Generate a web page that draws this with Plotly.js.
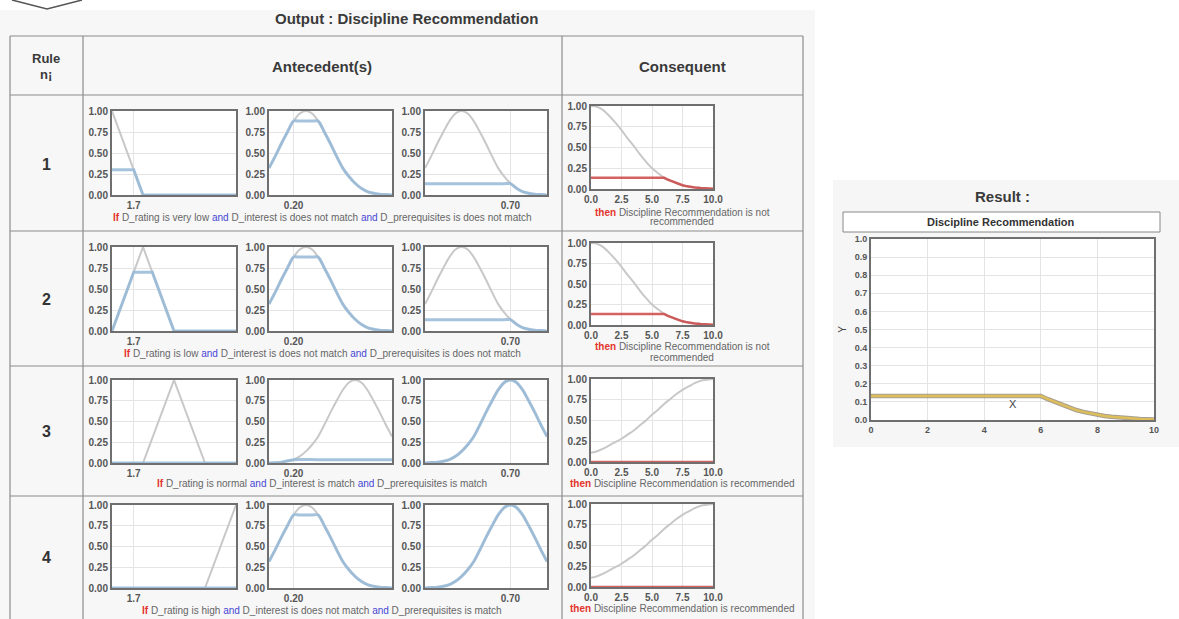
<!DOCTYPE html>
<html><head><meta charset="utf-8">
<script src="https://cdn.plot.ly/plotly-3.0.1.min.js"></script>
<style>html,body{margin:0;padding:0;background:#fff;}#chart{width:1179px;height:619px;}</style>
</head><body><div id="chart"></div>
<script>
// ---------------- DATA ----------------
const ruleNumbers = ['1', '2', '3', '4'];
const ratingTerms = ['very low', 'low', 'normal', 'high'];
const interestTerms = ['does not match', 'does not match', 'match', 'does not match'];
const prereqTerms = ['does not match', 'does not match', 'match', 'match'];
const consequentTerms = ['not recommended', 'not recommended', 'recommended', 'recommended'];
const inputTickVals = [1.7, 0.20, 0.70];
const inputTickText = ['1.7', '0.20', '0.70'];

// D_rating membership functions (grey)
const veryLowX = [1, 2, 5];        const veryLowY = [1, 0, 0];
const lowX = [1, 2, 3, 5];         const lowY = [0, 1, 0, 0];
const normalX = [1, 2, 3, 4, 5];   const normalY = [0, 0, 1, 0, 0];
const highX = [1, 4, 5];           const highY = [0, 0, 1];

// D_interest / D_prerequisites membership functions (grey)
const unitX = [0, 0.05, 0.1, 0.15, 0.2, 0.25, 0.3, 0.35, 0.4, 0.45, 0.5, 0.55, 0.6, 0.65, 0.7, 0.75, 0.8, 0.85, 0.9, 0.95, 1.0];
const notMatchY = [0.32, 0.46, 0.61, 0.75, 0.88, 0.97, 1.00, 0.97, 0.88, 0.75, 0.61, 0.46, 0.32, 0.22, 0.14, 0.08, 0.04, 0.02, 0.01, 0.005, 0.0];
const matchY = [0.0, 0.005, 0.01, 0.02, 0.04, 0.08, 0.14, 0.22, 0.32, 0.46, 0.61, 0.75, 0.88, 0.97, 1.00, 0.97, 0.88, 0.75, 0.61, 0.46, 0.32];

// fired (clipped) antecedent lines (blue)
const r1RatingX = [1, 1.7, 2, 5];          const r1RatingY = [0.3, 0.3, 0, 0];
const r2RatingX = [1, 1.7, 2.3, 3, 5];     const r2RatingY = [0, 0.7, 0.7, 0, 0];
const r3RatingX = [1, 5];                  const r3RatingY = [0, 0];
const r4RatingX = [1, 5];                  const r4RatingY = [0, 0];
const notMatchCutX = [0, 0.05, 0.1, 0.15, 0.2, 0.25, 0.3, 0.35, 0.4, 0.45, 0.5, 0.55, 0.6, 0.65, 0.7, 0.75, 0.8, 0.85, 0.9, 0.95, 1.0];
const notMatchCutY = [0.32, 0.46, 0.61, 0.75, 0.88, 0.88, 0.88, 0.88, 0.88, 0.75, 0.61, 0.46, 0.32, 0.22, 0.14, 0.08, 0.04, 0.02, 0.01, 0.005, 0.0];
const matchLowCutX = [0, 0.1, 0.2, 0.4, 0.7, 1.0];   const matchLowCutY = [0.0, 0.01, 0.04, 0.04, 0.04, 0.04];
const prereqCutX = [0, 0.3, 0.6, 0.65, 0.7, 0.75, 0.8, 0.85, 0.9, 0.95, 1.0];
const prereqCutY = [0.135, 0.135, 0.135, 0.135, 0.135, 0.08, 0.04, 0.02, 0.01, 0.005, 0.0];

// Consequent membership functions (grey)
const consX = [0, 0.5, 1, 1.5, 2, 2.5, 3, 3.5, 4, 4.5, 5, 5.5, 6, 6.5, 7, 7.5, 8, 8.5, 9, 9.5, 10];
const notRecY = [1.00, 0.99, 0.95, 0.88, 0.80, 0.71, 0.61, 0.52, 0.42, 0.33, 0.25, 0.19, 0.135, 0.10, 0.07, 0.045, 0.03, 0.02, 0.01, 0.005, 0.0];
const recY = [0.11, 0.13, 0.16, 0.20, 0.24, 0.28, 0.33, 0.38, 0.44, 0.50, 0.57, 0.63, 0.70, 0.76, 0.82, 0.87, 0.91, 0.95, 0.98, 0.99, 1.00];
// fired consequent lines (red)
const notRecCutX = [0, 6, 6.25, 6.5, 6.75, 7, 7.25, 7.5, 7.75, 8, 8.5, 9, 9.5, 10];
const notRecCutY = [0.135, 0.135, 0.115, 0.10, 0.082, 0.068, 0.055, 0.045, 0.036, 0.028, 0.018, 0.011, 0.006, 0.002];
const zeroCutX = [0, 10];   const zeroCutY = [0, 0];

// Aggregated result
const resultX = [0, 6, 6.25, 6.5, 6.75, 7, 7.25, 7.5, 7.75, 8, 8.25, 8.5, 8.75, 9, 9.5, 10];
const resultY = [0.133, 0.133, 0.115, 0.10, 0.082, 0.068, 0.055, 0.045, 0.036, 0.028, 0.022, 0.018, 0.014, 0.011, 0.006, 0.003];
const resultMarkX = [5];  const resultMarkY = [0.09];

// grouped per rule
const ratingGrey = [[veryLowX, veryLowY], [lowX, lowY], [normalX, normalY], [highX, highY]];
const ratingFired = [[r1RatingX, r1RatingY], [r2RatingX, r2RatingY], [r3RatingX, r3RatingY], [r4RatingX, r4RatingY]];
const interestGrey = [notMatchY, notMatchY, matchY, notMatchY];
const interestFired = [[notMatchCutX, notMatchCutY], [notMatchCutX, notMatchCutY], [matchLowCutX, matchLowCutY], [notMatchCutX, notMatchCutY]];
const prereqGrey = [notMatchY, notMatchY, matchY, matchY];
const prereqFired = [[prereqCutX, prereqCutY], [prereqCutX, prereqCutY], [unitX, matchY], [unitX, matchY]];
const consGrey = [notRecY, notRecY, recY, recY];
const consFired = [[notRecCutX, notRecCutY], [notRecCutX, notRecCutY], [zeroCutX, zeroCutY], [zeroCutX, zeroCutY]];

// ---------------- LAYOUT GEOMETRY ----------------
const W = 1179, H = 619;
const fx = p => p / W, fy = p => 1 - p / H;
const antCols = [[112, 236], [269, 392], [425, 547]];
const antRows = [[111, 195], [247, 331], [380, 463], [505, 588]];
const conCol = [591, 713];
const conRows = [[106, 189], [243, 325], [379, 462], [504, 587]];
const resCol = [871, 1154], resRow = [239, 420];
const ruleTextY = [218, 353, 483, 610];
const consTextY = [[212, 222], [347, 357], [483], [608]];
const ruleNumY = [164, 299, 431, 557];
const rowLines = [95, 231, 366, 496];

const FONT = '"Liberation Sans", Arial, sans-serif';
const GREY = 'rgb(200,200,200)', BLUE = 'rgba(150,185,215,0.85)', RED = 'rgba(205,70,70,0.85)';

const layout = {
  width: W, height: H, margin: {l: 0, r: 0, t: 0, b: 0},
  paper_bgcolor: '#ffffff', plot_bgcolor: 'rgba(0,0,0,0)', showlegend: false,
  font: {family: FONT, size: 9, color: '#555'},
  shapes: [], annotations: []
};
const traces = [];

function rectPx(x0, y0, x1, y1, fill, line, lw) {
  layout.shapes.push({type: 'rect', xref: 'paper', yref: 'paper', x0: fx(x0), x1: fx(x1), y0: fy(y1), y1: fy(y0),
    fillcolor: fill, line: {color: line || 'rgba(0,0,0,0)', width: lw || 0}, layer: 'below'});
}
function linePx(x0, y0, x1, y1, color, w) {
  layout.shapes.push({type: 'line', xref: 'paper', yref: 'paper', x0: fx(x0), x1: fx(x1), y0: fy(y0), y1: fy(y1),
    line: {color: color, width: w}, layer: 'above'});
}
function ann(text, x, y, size, opts) {
  layout.annotations.push(Object.assign({text: text, x: fx(x), y: fy(y), xref: 'paper', yref: 'paper', showarrow: false,
    xanchor: 'center', yanchor: 'middle', font: {family: FONT, size: size, color: '#555'}}, opts || {}));
}
const TICKFONT = {family: FONT, size: 10, color: '#555', weight: 'bold'};
function axes(n, xd, yd, xo, yo) {
  const s = n === 1 ? '' : String(n);
  const base = {showline: true, mirror: true, linecolor: '#6f6f6f', linewidth: 2, zeroline: false, showgrid: true,
    gridcolor: '#e4e4e4', gridwidth: 1, ticks: '', fixedrange: true, tickfont: TICKFONT};
  layout['xaxis' + s] = Object.assign({}, base, {domain: [fx(xd[0]), fx(xd[1])], anchor: 'y' + s}, xo);
  layout['yaxis' + s] = Object.assign({}, base, {domain: [fy(yd[1]), fy(yd[0])], anchor: 'x' + s}, yo);
  rectPx(xd[0], yd[0], xd[1], yd[1], '#ffffff');
  return s;
}
function line(s, x, y, color, width, shape) {
  traces.push({x: x, y: y, xaxis: 'x' + s, yaxis: 'y' + s, type: 'scatter', mode: 'lines',
    line: {color: color, width: width, shape: shape || 'linear', smoothing: 0.8}, hoverinfo: 'skip'});
}

// backgrounds
rectPx(0, 10, 815, 619, '#f7f7f7');
rectPx(833, 180, 1179, 447, '#f6f6f6');

const yAnt = {range: [0, 1], tickmode: 'linear', tick0: 0, dtick: 0.25, tickformat: '.2f'};
const TXT = {family: FONT, size: 10, color: '#666'};

for (let r = 0; r < 4; r++) {
  // antecedent 1: D_rating
  let s = axes(r * 4 + 1, antCols[0], antRows[r], {range: [1, 5], tickvals: [inputTickVals[0]], ticktext: [inputTickText[0]]}, yAnt);
  line(s, ratingGrey[r][0], ratingGrey[r][1], GREY, 2);
  line(s, ratingFired[r][0], ratingFired[r][1], BLUE, 3);
  // antecedent 2: D_interest
  s = axes(r * 4 + 2, antCols[1], antRows[r], {range: [0, 1], tickvals: [inputTickVals[1]], ticktext: [inputTickText[1]]}, yAnt);
  line(s, unitX, interestGrey[r], GREY, 2, 'spline');
  line(s, interestFired[r][0], interestFired[r][1], BLUE, 3, 'spline');
  // antecedent 3: D_prerequisites
  s = axes(r * 4 + 3, antCols[2], antRows[r], {range: [0, 1], tickvals: [inputTickVals[2]], ticktext: [inputTickText[2]]}, yAnt);
  line(s, unitX, prereqGrey[r], GREY, 2, 'spline');
  line(s, prereqFired[r][0], prereqFired[r][1], BLUE, 3, 'spline');
  // consequent
  s = axes(r * 4 + 4, conCol, conRows[r], {range: [0, 10], tickmode: 'linear', tick0: 0, dtick: 2.5, tickformat: '.1f'}, yAnt);
  line(s, consX, consGrey[r], GREY, 2, 'spline');
  line(s, consFired[r][0], consFired[r][1], RED, 2.5, 'linear');

  // texts
  const IF = '<span style="color:#e3342c"><b>If</b></span>';
  const AND = '<span style="color:#4646d6">and</span>';
  const THEN = '<span style="color:#e3342c"><b>then</b></span>';
  ann(IF + ' D_rating is ' + ratingTerms[r] + ' ' + AND + ' D_interest is ' + interestTerms[r] + ' ' + AND +
      ' D_prerequisites is ' + prereqTerms[r], 322, ruleTextY[r], 10, {font: TXT});
  const cons = 'Discipline Recommendation is ' + consequentTerms[r];
  if (consTextY[r].length === 2) {
    const words = cons.split(' ');
    const last = words.pop();
    ann(THEN + ' ' + words.join(' '), 682, consTextY[r][0], 10, {font: TXT});
    ann(last, 682, consTextY[r][1], 10, {font: TXT});
  } else {
    ann(THEN + ' ' + cons, 682, consTextY[r][0], 10, {font: TXT});
  }
  ann('<b>' + ruleNumbers[r] + '</b>', 46, ruleNumY[r], 16, {font: {family: FONT, size: 16, color: '#333'}});
}

// result chart
const RTF = {family: FONT, size: 9, color: '#555', weight: 'bold'};
const sR = axes(17, resCol, resRow,
  {range: [0, 10], tickmode: 'linear', tick0: 0, dtick: 2, tickfont: RTF},
  {range: [0, 1], tickmode: 'linear', tick0: 0, dtick: 0.1, tickformat: '.1f', tickfont: RTF,
   title: {text: 'Y', font: {family: FONT, size: 10, color: '#444'}, standoff: 6}});
line(sR, resultX, resultY, 'rgba(130,120,100,0.7)', 4.5, 'linear');
line(sR, resultX, resultY, 'rgb(222,190,90)', 2.5, 'linear');
layout.annotations.push({text: 'X', x: resultMarkX[0], y: resultMarkY[0], xref: 'x17', yref: 'y17', showarrow: false,
  font: {family: FONT, size: 11, color: '#444'}});

// table lines
const TL = '#8c8c8c';
linePx(10, 36, 803, 36, TL, 1.2);
linePx(10, 36, 10, 619, TL, 1.2);
linePx(803, 36, 803, 619, TL, 1.2);
linePx(83, 36, 83, 619, TL, 1.2);
linePx(562, 36, 562, 619, TL, 1.2);
rowLines.forEach(y => linePx(10, y, 803, y, TL, 1.2));

// headers
const HF = {family: FONT, size: 15, color: '#3a3a3a'};
ann('<b>Output : Discipline Recommendation</b>', 406, 19, 15, {font: HF});
ann('<b>Rule</b>', 46, 58, 13, {font: {family: FONT, size: 13, color: '#3a3a3a'}});
ann('<b>n¡</b>', 46, 74, 13, {font: {family: FONT, size: 13, color: '#3a3a3a'}});
ann('<b>Antecedent(s)</b>', 322, 66, 15, {font: HF});
ann('<b>Consequent</b>', 682, 66, 15, {font: HF});

// result header
ann('<b>Result :</b>', 1002, 196, 15, {font: HF});
rectPx(843, 212, 1160, 232, '#ffffff', '#888', 1);
ann('<b>Discipline Recommendation</b>', 1001, 222, 11, {font: {family: FONT, size: 11, color: '#333'}});

// chevron at top-left
layout.shapes.push({type: 'path', xref: 'paper', yref: 'paper',
  path: 'M ' + fx(12) + ' ' + fy(0) + ' L ' + fx(47) + ' ' + fy(9) + ' L ' + fx(82) + ' ' + fy(0),
  line: {color: '#555', width: 1.5}, layer: 'above'});

Plotly.newPlot('chart', traces, layout, {staticPlot: true, displayModeBar: false});
</script>
</body></html>
